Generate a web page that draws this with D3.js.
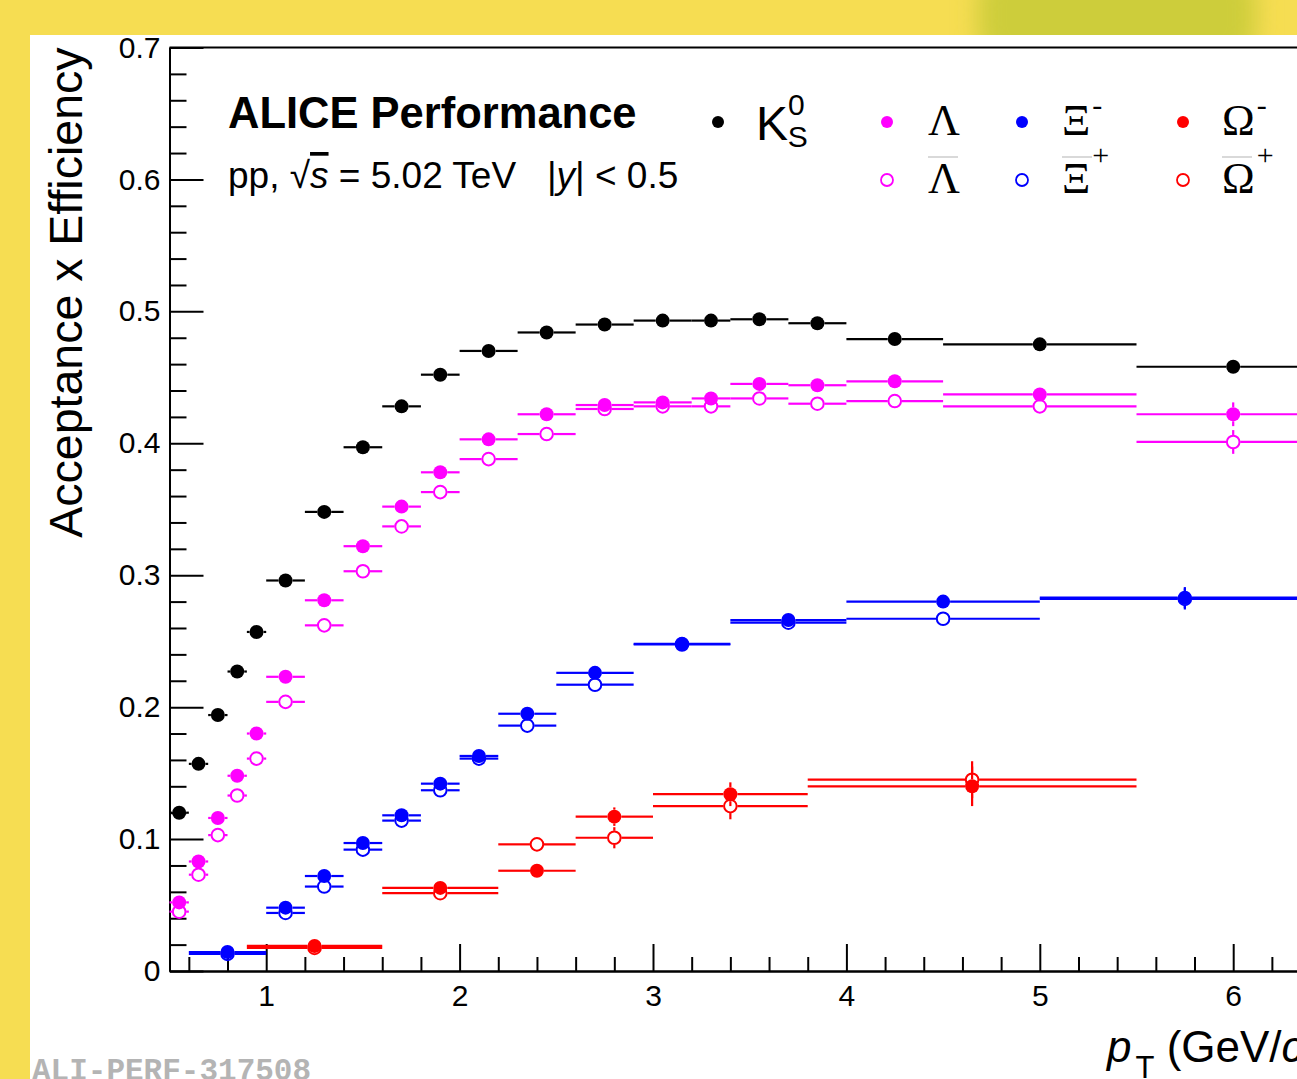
<!DOCTYPE html>
<html>
<head>
<meta charset="utf-8">
<script src="https://cdn.jsdelivr.net/npm/d3@7"></script>
<style>
  body { margin: 0; background: #f6dd52; }
  svg { display: block; }
  text { font-family: "Liberation Sans", Arial, Helvetica, sans-serif; }
</style>
</head>
<body>
<div id="chart"></div>
<script>
// pT bin edges (GeV/c)
var v0Edges = [0.5, 0.6, 0.7, 0.8, 0.9, 1.0, 1.2, 1.4, 1.6, 1.8, 2.0, 2.3, 2.6, 2.9, 3.2, 3.4, 3.7, 4.0, 4.5, 5.5, 6.5];
var xiEdges = [0.6, 1.0, 1.2, 1.4, 1.6, 1.8, 2.0, 2.2, 2.5, 2.9, 3.4, 4.0, 5.0, 6.5];
var omegaEdges = [0.9, 1.6, 2.2, 2.6, 3.0, 3.8, 5.5];

// acceptance x efficiency values and stat errors
var k0sVal = [0.120, 0.157, 0.194, 0.227, 0.257, 0.296, 0.348, 0.397, 0.428, 0.452, 0.470, 0.484, 0.490, 0.493, 0.493, 0.494, 0.491, 0.479, 0.475, 0.458];
var k0sErr = [0.002, 0.001, 0.001, 0.001, 0.001, 0.001, 0.001, 0.001, 0.001, 0.001, 0.001, 0.001, 0.001, 0.001, 0.001, 0.001, 0.001, 0.002, 0.002, 0.003];

var lambdaVal = [0.052, 0.083, 0.116, 0.148, 0.180, 0.223, 0.281, 0.322, 0.352, 0.378, 0.403, 0.422, 0.429, 0.431, 0.434, 0.445, 0.444, 0.447, 0.437, 0.422];
var lambdaErr = [0.003, 0.002, 0.002, 0.002, 0.002, 0.002, 0.002, 0.002, 0.002, 0.002, 0.002, 0.002, 0.002, 0.002, 0.002, 0.002, 0.003, 0.003, 0.004, 0.009];
var antiLambdaVal = [0.045, 0.073, 0.103, 0.133, 0.161, 0.204, 0.262, 0.303, 0.337, 0.363, 0.388, 0.407, 0.426, 0.428, 0.428, 0.434, 0.430, 0.432, 0.428, 0.401];
var antiLambdaErr = [0.003, 0.002, 0.002, 0.002, 0.002, 0.002, 0.002, 0.002, 0.002, 0.002, 0.002, 0.002, 0.002, 0.002, 0.002, 0.002, 0.003, 0.003, 0.004, 0.009];

var xiVal = [0.0144, 0.048, 0.072, 0.097, 0.118, 0.142, 0.163, 0.195, 0.226, 0.248, 0.266, 0.280, 0.283];
var xiErr = [0.002, 0.001, 0.001, 0.001, 0.001, 0.001, 0.001, 0.002, 0.002, 0.002, 0.002, 0.003, 0.008];
var antiXiVal = [0.013, 0.044, 0.064, 0.092, 0.114, 0.137, 0.161, 0.186, 0.217, 0.2475, 0.264, 0.267, 0.282];
var antiXiErr = [0.002, 0.001, 0.001, 0.001, 0.001, 0.001, 0.001, 0.002, 0.002, 0.002, 0.002, 0.003, 0.008];

var omegaVal = [0.019, 0.063, 0.076, 0.117, 0.134, 0.140];
var omegaErr = [0.001, 0.002, 0.004, 0.007, 0.009, 0.015];
var antiOmegaVal = [0.0175, 0.059, 0.096, 0.101, 0.125, 0.145];
var antiOmegaErr = [0.001, 0.002, 0.005, 0.008, 0.010, 0.014];

var yTicks = [0, 0.1, 0.2, 0.3, 0.4, 0.5, 0.6, 0.7];
var xTicks = [1, 2, 3, 4, 5, 6, 7];

var W = 1297, H = 1079;

var svg = d3.select("#chart").append("svg")
  .attr("width", W)
  .attr("height", H);

// slide background
var defs = svg.append("defs");
defs.append("filter").attr("id", "blur")
  .attr("x", "-50%").attr("y", "-50%").attr("width", "200%").attr("height", "200%")
  .append("feGaussianBlur").attr("stdDeviation", 12);
svg.append("rect").attr("width", W).attr("height", H).attr("fill", "#f6dd52");
svg.append("rect")
  .attr("x", 978).attr("y", -40).attr("width", 278).attr("height", 110).attr("rx", 40)
  .attr("fill", "#cdcd3b")
  .attr("filter", "url(#blur)");
svg.append("rect").attr("x", 30).attr("y", 35).attr("width", W - 30).attr("height", H - 35).attr("fill", "#fff");

var x = d3.scaleLinear().domain([0.5, 8]).range([169.5, 169.5 + 7.5 * 193.4]);
var y = d3.scaleLinear().domain([0, 0.7]).range([971, 47.5]);

var g = svg.append("g");

// minor ticks
var xMinor = d3.range(6, 80, 2).map(d => d / 10).filter(d => d % 1 !== 0);
var yMinor = d3.range(1, 35).map(d => d / 50).filter(d => Math.round(d * 50) % 5 !== 0);

g.append("g")
  .attr("class", "axis")
  .attr("transform", "translate(0," + y(0) + ")")
  .call(d3.axisBottom(x).tickValues(xMinor).tickSize(-14).tickSizeOuter(0).tickFormat(""));
g.append("g")
  .attr("class", "axis")
  .attr("transform", "translate(0," + y(0) + ")")
  .call(d3.axisBottom(x).tickValues(xTicks).tickSize(-27).tickSizeOuter(0).tickPadding(14).tickFormat(d3.format("d")));

g.append("g")
  .attr("class", "axis")
  .attr("transform", "translate(" + x(0.5) + ",0)")
  .call(d3.axisLeft(y).tickValues(yMinor).tickSize(-17).tickSizeOuter(0).tickFormat(""));
g.append("g")
  .attr("class", "axis")
  .attr("transform", "translate(" + x(0.5) + ",0)")
  .call(d3.axisLeft(y).tickValues(yTicks).tickSize(-34).tickSizeOuter(0).tickPadding(9)
    .tickFormat(d => d === 0 ? "0" : d3.format(".1f")(d)));

g.selectAll(".axis path, .axis line")
  .attr("stroke", "#000")
  .attr("stroke-width", 2);
g.selectAll(".axis text")
  .attr("fill", "#000")
  .style("font-size", "30px")
  .style("font-family", "'Liberation Sans', Arial, sans-serif");

// top frame line
g.append("line")
  .attr("x1", x(0.5)).attr("x2", x(8))
  .attr("y1", y(0.7)).attr("y2", y(0.7))
  .attr("stroke", "#000").attr("stroke-width", 2);

// axis titles
g.append("text")
  .attr("transform", "translate(82," + y(0.7) + ") rotate(-90)")
  .attr("text-anchor", "end")
  .style("font-size", "46.5px")
  .text("Acceptance x Efficiency");

var xt = g.append("text")
  .attr("x", 1107).attr("y", 1062)
  .style("font-size", "44px")
  .style("white-space", "pre");
xt.append("tspan").style("font-style", "italic").text("p");
xt.append("tspan").attr("dy", 16).attr("dx", 4).style("font-size", "31px").text("T");
xt.append("tspan").attr("dy", -16).text(" (GeV/");
xt.append("tspan").style("font-style", "italic").text("c");
xt.append("tspan").text(")");

// data series
var series = [
  {edges: v0Edges, val: k0sVal, err: k0sErr, color: "#000000", open: false},
  {edges: v0Edges, val: lambdaVal, err: lambdaErr, color: "#ff00ff", open: false},
  {edges: v0Edges, val: antiLambdaVal, err: antiLambdaErr, color: "#ff00ff", open: true},
  {edges: xiEdges, val: xiVal, err: xiErr, color: "#0000ff", open: false},
  {edges: xiEdges, val: antiXiVal, err: antiXiErr, color: "#0000ff", open: true},
  {edges: omegaEdges, val: omegaVal, err: omegaErr, color: "#ff0000", open: false},
  {edges: omegaEdges, val: antiOmegaVal, err: antiOmegaErr, color: "#ff0000", open: true}
];

var R = 7; // marker radius, error bars leave a gap of this size (ROOT style)

series.forEach(function(s) {
  var pts = s.val.map(function(v, i) {
    var lo = s.edges[i], hi = s.edges[i + 1];
    return {lo: lo, hi: hi, x: (lo + hi) / 2, y: v, e: s.err[i]};
  });
  var sg = g.append("g")
    .attr("stroke", s.color).attr("stroke-width", 2.2);
  // horizontal bars, left and right of marker
  sg.selectAll(".hl").data(pts).enter().append("line")
    .attr("x1", d => x(d.lo)).attr("x2", d => x(d.x) - R)
    .attr("y1", d => y(d.y)).attr("y2", d => y(d.y));
  sg.selectAll(".hr").data(pts).enter().append("line")
    .attr("x1", d => x(d.x) + R).attr("x2", d => x(d.hi))
    .attr("y1", d => y(d.y)).attr("y2", d => y(d.y));
  // vertical error bars, only the part outside the marker
  var big = pts.filter(d => Math.abs(y(d.y + d.e) - y(d.y)) > R);
  sg.selectAll(".vu").data(big).enter().append("line")
    .attr("x1", d => x(d.x)).attr("x2", d => x(d.x))
    .attr("y1", d => y(d.y) - R).attr("y2", d => y(d.y + d.e));
  sg.selectAll(".vd").data(big).enter().append("line")
    .attr("x1", d => x(d.x)).attr("x2", d => x(d.x))
    .attr("y1", d => y(d.y) + R).attr("y2", d => y(d.y - d.e));
  sg.selectAll("circle").data(pts).enter().append("circle")
    .attr("cx", d => x(d.x)).attr("cy", d => y(d.y))
    .attr("r", s.open ? 6.3 : 7)
    .attr("fill", s.open ? "none" : s.color)
    .attr("stroke-width", s.open ? 2 : 0);
});

// header text
g.append("text")
  .attr("x", 228).attr("y", 128)
  .style("font-size", "43.5px").style("font-weight", "bold")
  .text("ALICE Performance");

var sub = g.append("text")
  .attr("x", 228).attr("y", 188)
  .style("font-size", "37px")
  .style("white-space", "pre");
sub.append("tspan").text("pp, \u221A");
sub.append("tspan").style("font-style", "italic").style("text-decoration", "overline").text("s");
sub.append("tspan").text(" = 5.02 TeV   |");
sub.append("tspan").style("font-style", "italic").text("y");
sub.append("tspan").text("| < 0.5");

// legend
var leg = g.append("g");
leg.append("circle").attr("cx", 718).attr("cy", 122).attr("r", 6).attr("fill", "#000");
var kt = leg.append("text").attr("x", 756).attr("y", 140).style("font-size", "48px");
kt.append("tspan").text("K");
kt.append("tspan").attr("dy", -25).style("font-size", "30px").text("0");
kt.append("tspan").attr("dx", -17).attr("dy", 32).style("font-size", "30px").text("S");

var legItems = [
  {cx: 887, tx: 928, color: "#ff00ff", sym: "\u039B", sup1: "", sup2: ""},
  {cx: 1022, tx: 1062, color: "#0000ff", sym: "\u039E", sup1: "-", sup2: "+"},
  {cx: 1183, tx: 1222, color: "#ff0000", sym: "\u03A9", sup1: "-", sup2: "+"}
];
legItems.forEach(function(it) {
  leg.append("circle").attr("cx", it.cx).attr("cy", 122).attr("r", 6).attr("fill", it.color);
  leg.append("circle").attr("cx", it.cx).attr("cy", 180).attr("r", 6)
    .attr("fill", "none").attr("stroke", it.color).attr("stroke-width", 1.8);
  var t1 = leg.append("text").attr("x", it.tx).attr("y", 135)
    .style("font-family", "'Liberation Serif', 'Times New Roman', serif").style("font-size", "44px");
  t1.append("tspan").text(it.sym);
  if (it.sup1) t1.append("tspan").attr("dy", -20).attr("dx", 2).style("font-size", "30px").text(it.sup1);
  var t2 = leg.append("text").attr("x", it.tx).attr("y", 193)
    .style("font-family", "'Liberation Serif', 'Times New Roman', serif").style("font-size", "44px");
  t2.append("tspan").text(it.sym);
  if (it.sup2) t2.append("tspan").attr("dy", -28).attr("dx", 2).style("font-size", "30px").text(it.sup2);
  // overline for the antiparticle
  leg.append("line")
    .attr("x1", it.tx).attr("x2", it.tx + 30)
    .attr("y1", 157).attr("y2", 157)
    .attr("stroke", "#ccc").attr("stroke-width", 1.5);
});

// figure id
svg.append("text")
  .attr("x", 32).attr("y", 1080)
  .style("font-family", "'Liberation Mono', 'Courier New', monospace")
  .style("font-size", "31px").style("font-weight", "bold")
  .attr("fill", "#b4b4b4")
  .text("ALI-PERF-317508");
</script>
</body>
</html>
